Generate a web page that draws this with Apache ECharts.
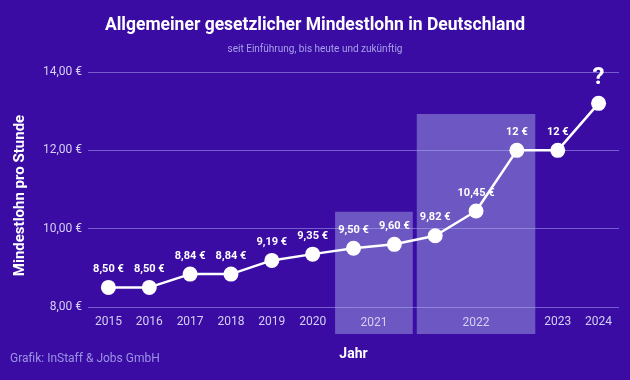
<!DOCTYPE html>
<html><head><meta charset="utf-8">
<script src="https://cdn.jsdelivr.net/npm/echarts@6/dist/echarts.min.js"></script>
<style>html,body{margin:0;padding:0;background:#3a0ca3}#c{width:630px;height:380px}</style>
</head><body><div id="c"></div>
<script>
const years = ['2015','2016','2017','2018','2019','2020','2021','2021','2022','2022','2022','2023','2024'];
const wages = [8.50, 8.50, 8.84, 8.84, 9.19, 9.35, 9.50, 9.60, 9.82, 10.45, 12, 12, 13.2];
const wageLabels = ['8,50 €','8,50 €','8,84 €','8,84 €','9,19 €','9,35 €','9,50 €','9,60 €','9,82 €','10,45 €','12 €','12 €','?'];
const periodYears = ['2021', '2022'];
const periodFrom = [6, 8];
const periodTo = [7, 10];
const periodTop = [10.43, 12.93];
const yTicks = [8, 10, 12, 14];
const yTickLabels = ['8,00 €', '10,00 €', '12,00 €', '14,00 €'];

const FONT = 'Roboto';
const LAV = '#d6d0f4';
const chart = echarts.init(document.getElementById('c'));
chart.setOption({
  backgroundColor: '#3a0ca3',
  textStyle: { fontFamily: FONT },
  title: {
    text: 'Allgemeiner gesetzlicher Mindestlohn in Deutschland',
    subtext: 'seit Einführung, bis heute und zukünftig',
    left: 'center', top: 12, itemGap: 9,
    textStyle: { color: '#ffffff', fontSize: 17.5, fontWeight: 'bold', fontFamily: FONT },
    subtextStyle: { color: '#a9a1ea', fontSize: 10, fontFamily: FONT }
  },
  graphic: [{
    type: 'text', left: 10, top: 353,
    style: { text: 'Grafik: InStaff & Jobs GmbH', fill: '#9c93e4', font: '12px Roboto' }
  }],
  grid: { left: 88, right: 11, top: 72, bottom: 73 },
  xAxis: [{
    type: 'category', data: years, boundaryGap: true,
    axisLine: { show: false }, axisTick: { show: false },
    axisLabel: {
      color: LAV, fontSize: 12, margin: 9, interval: 0,
      formatter: (v) => periodYears.indexOf(v) >= 0 ? '' : v
    },
    name: 'Jahr', nameLocation: 'middle', nameGap: 40,
    nameTextStyle: { color: '#ffffff', fontSize: 14, fontWeight: 'bold' }
  }, {
    type: 'value', min: -0.5, max: 12.5, show: false
  }],
  yAxis: {
    type: 'value', min: yTicks[0], max: yTicks[yTicks.length - 1], interval: 2,
    axisLine: { show: false }, axisTick: { show: false },
    splitLine: { lineStyle: { color: 'rgba(170,160,240,0.55)', width: 1 } },
    axisLabel: { color: LAV, fontSize: 12, margin: 6,
      formatter: (v) => yTickLabels[yTicks.indexOf(v)] },
    name: 'Mindestlohn pro Stunde', nameLocation: 'middle', nameGap: 60,
    nameTextStyle: { color: '#ffffff', fontSize: 15, fontWeight: 'bold', padding: [0, 12, 0, 0] }
  },
  series: [{
    type: 'custom', xAxisIndex: 1, yAxisIndex: 0, z: 1, clip: false, silent: true,
    data: periodYears.map((y, i) => [periodFrom[i], periodTo[i], periodTop[i], i]),
    renderItem: function (params, api) {
      const i = api.value(3);
      const tl = api.coord([api.value(0) - 0.5, api.value(2)]);
      const br = api.coord([api.value(1) + 0.5, yTicks[0]]);
      const x0 = tl[0] + 2, x1 = br[0] - 2;
      return {
        type: 'group', children: [{
          type: 'rect',
          shape: { x: x0, y: tl[1], width: x1 - x0, height: br[1] - tl[1] + 27 },
          style: { fill: 'rgba(170,180,235,0.45)' }
        }, {
          type: 'text',
          style: { text: periodYears[i], x: (x0 + x1) / 2, y: br[1] + 16,
            align: 'center', verticalAlign: 'middle', fill: LAV, font: '12px Roboto' }
        }]
      };
    }
  }, {
    type: 'line', z: 3, data: wages.map((v, i) => ({
      value: v,
      label: i === wages.length - 1 ? { fontSize: 24, distance: 6 } : undefined
    })),
    symbol: 'circle', symbolSize: 15,
    itemStyle: { color: '#ffffff' },
    lineStyle: { color: '#ffffff', width: 2.5 },
    label: {
      show: true, position: 'top', distance: 5, color: '#ffffff',
      fontSize: 11, fontWeight: 'bold',
      formatter: (p) => wageLabels[p.dataIndex]
    }
  }]
});
</script></body></html>
